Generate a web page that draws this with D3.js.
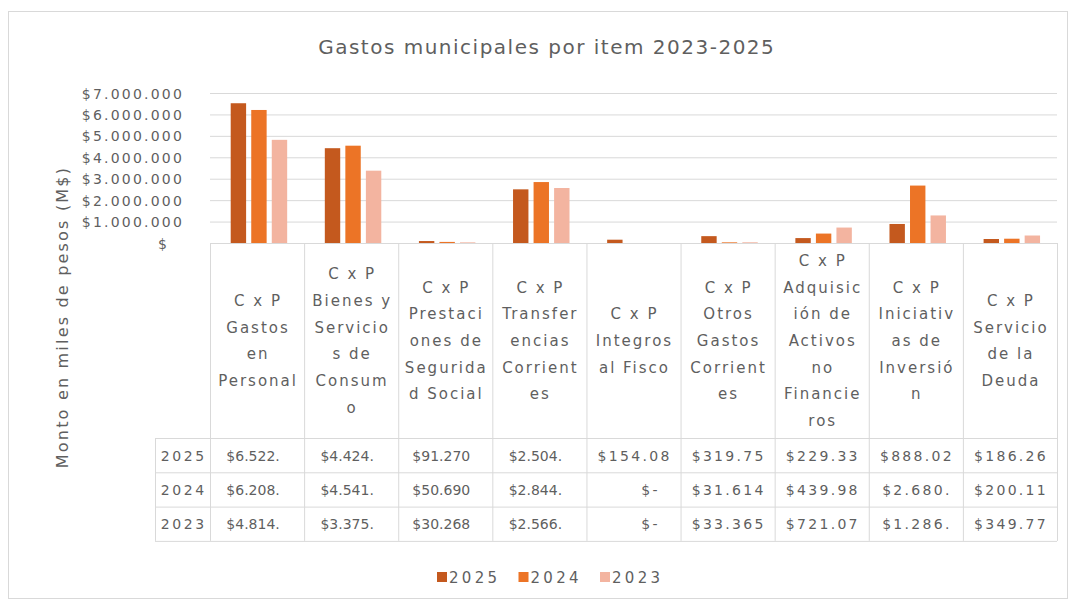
<!DOCTYPE html>
<html><head><meta charset="utf-8">
<script src="https://cdn.jsdelivr.net/npm/d3@7"></script>
<style>
body{margin:0;background:#fff;}
svg text{font-family:"DejaVu Sans",Verdana,sans-serif;fill:#5f5f5f;}
</style></head><body>
<svg id="c" width="1076" height="604"></svg>
<script>
// ---------- data ----------
const title = "Gastos municipales por item 2023-2025";
const yLabel = "Monto en miles de pesos (M$)";
const categories = [
  "C x P Gastos en Personal",
  "C x P Bienes y Servicios de Consumo",
  "C x P Prestaciones de Seguridad Social",
  "C x P Transferencias Corrientes",
  "C x P Integros al Fisco",
  "C x P Otros Gastos Corrientes",
  "C x P Adquisición de Activos no Financieros",
  "C x P Iniciativas de Inversión",
  "C x P Servicio de la Deuda"
];
const categoryLines = [
  ["C x P","Gastos","en","Personal"],
  ["C x P","Bienes y","Servicio","s de","Consum","o"],
  ["C x P","Prestaci","ones de","Segurida","d Social"],
  ["C x P","Transfer","encias","Corrient","es"],
  ["C x P","Integros","al Fisco"],
  ["C x P","Otros","Gastos","Corrient","es"],
  ["C x P","Adquisic","ión de","Activos","no","Financie","ros"],
  ["C x P","Iniciativ","as de","Inversió","n"],
  ["C x P","Servicio","de la","Deuda"]
];
const years = ["2025","2024","2023"];
const values2025 = [6522000, 4424000, 91270, 2504000, 154080, 319750, 229330, 888020, 186260];
const values2024 = [6208000, 4541000, 50690, 2844000, 0, 31614, 439980, 2680000, 200110];
const values2023 = [4814000, 3375000, 30268, 2566000, 0, 33365, 721070, 1286000, 349770];
const yTicks = [0, 1000000, 2000000, 3000000, 4000000, 5000000, 6000000, 7000000];
const colors = ["#C4591E", "#EC7426", "#F3B4A0"];

const seriesValues = [values2025, values2024, values2023];

// ---------- layout ----------
const svg = d3.select("#c");
const plotL = 210, plotR = 1057, plotT = 93, plotB = 243;
const headB = 438, rowH = 34.3, tableL = 155;
const lineCol = "#D9D9D9";

svg.append("rect").attr("x",8.5).attr("y",11.5).attr("width",1059).attr("height",587)
  .attr("fill","#fff").attr("stroke","#D9D9D9");

const locale = d3.formatLocale({decimal:",", thousands:".", grouping:[3], currency:["$",""]});
const fmt = locale.format("$,.0f");

const x = d3.scaleBand().domain(categories).range([plotL, plotR]).padding(0);
const bw = x.bandwidth();
const xi = d3.scaleBand().domain(years).range([bw*0.22, bw*0.82]).paddingInner(0.25).paddingOuter(0);
const y = d3.scaleLinear().domain([0, 7000000]).range([plotB, plotT]);

// title
svg.append("text").attr("x", 546).attr("y", 54).attr("text-anchor","middle")
  .style("font-size","20px").style("letter-spacing","1.5px").attr("dx",0.75).text(title);

// gridlines
const grid = svg.append("g").attr("transform",`translate(${plotL},0)`)
  .call(d3.axisLeft(y).tickValues(yTicks).tickSize(-(plotR-plotL)).tickFormat(""));
grid.select(".domain").remove();
grid.selectAll("line").attr("stroke", lineCol);

// y tick labels
const yax = svg.append("g").attr("transform",`translate(${plotL},0)`)
  .call(d3.axisLeft(y).tickValues(yTicks).tickSize(0).tickFormat(d => d === 0 ? "$" : fmt(d)));
yax.select(".domain").remove();
yax.selectAll("text").attr("x", d => d === 0 ? -41 : -26).attr("dy","0.36em")
  .style("font-size","14px").style("letter-spacing","2.2px")
  .style("font-family",'"DejaVu Sans",Verdana,sans-serif').attr("fill", "#5f5f5f");

// y label
svg.append("text").attr("transform","translate(68,317) rotate(-90)").attr("text-anchor","middle")
  .style("font-size","16px").style("letter-spacing","2.2px").text(yLabel);

// bars
const groups = svg.append("g").selectAll("g").data(years).join("g")
  .attr("fill", (d,i) => colors[i]);
groups.selectAll("rect").data((yr,i) => categories.map((c,j) => ({c, yr, v: seriesValues[i][j]})))
  .join("rect")
  .attr("x", d => x(d.c) + xi(d.yr))
  .attr("width", xi.bandwidth())
  .attr("y", d => y(d.v))
  .attr("height", d => plotB - y(d.v));

// header cells (category labels)
const headLines = svg.append("g");
categories.forEach((c, j) => {
  const cx = x(c);
  headLines.append("line").attr("x1", cx+0.5).attr("x2", cx+0.5).attr("y1", plotB).attr("y2", headB)
    .attr("stroke", lineCol);
  const lines = categoryLines[j];
  const lh = 26.7, cy = (plotB + headB)/2;
  const t = headLines.append("text").attr("text-anchor","middle")
    .style("font-size","15px").style("letter-spacing","2px");
  lines.forEach((ln, k) => {
    t.append("tspan").attr("x", cx + bw/2 + 1)
      .attr("y", cy + (k - (lines.length-1)/2)*lh + 5.5).text(ln);
  });
});
headLines.append("line").attr("x1", plotR+0.5).attr("x2", plotR+0.5).attr("y1", plotB).attr("y2", headB)
  .attr("stroke", lineCol);

// data table
const tbl = svg.append("g");
const rowY = d3.scaleBand().domain(years).range([headB, headB + rowH*3]);
years.forEach(yr => {
  tbl.append("line").attr("x1", tableL).attr("x2", plotR).attr("y1", rowY(yr)+0.5).attr("y2", rowY(yr)+0.5)
    .attr("stroke", lineCol);
});
tbl.append("line").attr("x1", tableL).attr("x2", plotR).attr("y1", headB+rowH*3+0.5).attr("y2", headB+rowH*3+0.5)
  .attr("stroke", lineCol);
[tableL, ...categories.map(c => x(c)), plotR].forEach(xx => {
  tbl.append("line").attr("x1", xx+0.5).attr("x2", xx+0.5).attr("y1", headB).attr("y2", headB+rowH*3)
    .attr("stroke", lineCol);
});
const cellText = v => v === 0 ? "$-" : fmt(v).slice(0, 7);
years.forEach((yr, i) => {
  const cy = rowY(yr) + rowH/2 + 5.5;
  tbl.append("text").attr("x", (tableL + plotL)/2 + 1.3).attr("y", cy).attr("text-anchor","middle")
    .style("font-size","14px").style("letter-spacing","2.6px").text(yr);
  categories.forEach((c, j) => {
    const v = seriesValues[i][j];
    const wide = j >= 4;
    tbl.append("text")
      .attr("x", x(c) + bw/2 + (v === 0 ? 16 : 0) + (wide ? 1.1 : -4))
      .attr("y", cy).attr("text-anchor","middle")
      .style("font-size","14px").style("letter-spacing", wide ? "2.3px" : "0px")
      .text(cellText(v));
  });
});

// legend
const lg = svg.append("g").attr("transform","translate(437,572)");
const li = lg.selectAll("g").data(years).join("g").attr("transform",(d,i)=>`translate(${i*81.5},0)`);
li.append("rect").attr("width",10).attr("height",10).attr("fill",(d,i)=>colors[i]);
li.append("text").attr("x",12).attr("y",10.5).style("font-size","15px").style("letter-spacing","3.3px").text(d=>d);
</script>
</body></html>
